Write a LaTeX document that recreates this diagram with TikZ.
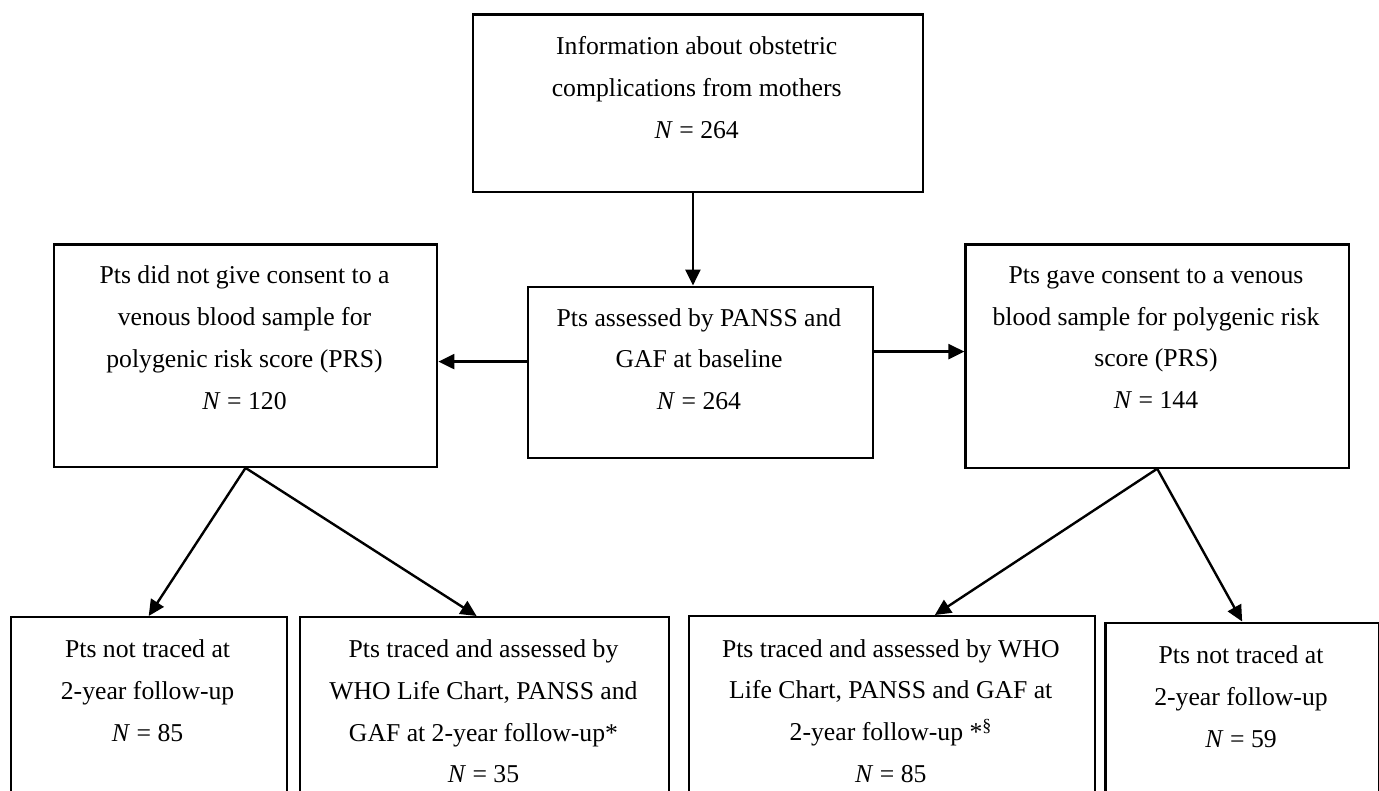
\documentclass[tikz,border=0pt]{standalone}
\usepackage{fontspec}
\setmainfont{Liberation Serif}
\usetikzlibrary{arrows.meta}
\begin{document}
\begin{tikzpicture}[x=1pt,y=-1pt,
  box/.style={draw, line width=2.2pt, inner sep=0pt, anchor=north west},
  txt/.style={align=center, font=\fontsize{25.7}{41.7}\selectfont, inner sep=0pt},
  arr/.style={line width=2.4pt, -{Triangle[length=16pt,width=15pt]}}]
\useasboundingbox (0,0) rectangle (1379,790);
\clip (0,0) rectangle (1379,790);
% boxes
\node[box, minimum width=450.3pt, minimum height=177.4pt] (top) at (471.7,13.3) {};
\node[box, minimum width=344.9pt, minimum height=171.5pt] (mid) at (526.8,285.5) {};
\node[box, minimum width=383.5pt, minimum height=222.4pt] (left) at (52.7,243.3) {};
\node[box, minimum width=383.4pt, minimum height=223.2pt] (right) at (964.4,243.3) {};
\node[box, minimum width=276.2pt, minimum height=200pt] (b1) at (9.5,616) {};
\node[box, minimum width=369pt, minimum height=200pt] (b2) at (299,616) {};
\node[box, minimum width=405.5pt, minimum height=200pt] (b3) at (688,615) {};
\node[box, minimum width=273.3pt, minimum height=200pt] (b4) at (1104.4,621.5) {};
% texts
\node[txt] (ttop) at (696.7,88.3) {\strut Information about obstetric\\complications from mothers\\\textit{N} = 264\strut};
\node[txt] (tmid) at (699,359.5) {\strut Pts assessed by PANSS and\\GAF at baseline\\\textit{N} = 264\strut};
\node[txt] (tleft) at (244.5,338.2) {\strut Pts did not give consent to a\\venous blood sample for\\polygenic risk score (PRS)\\\textit{N} = 120\strut};
\node[txt] (tright) at (1156,337.8) {\strut Pts gave consent to a venous\\blood sample for polygenic risk\\score (PRS)\\\textit{N} = 144\strut};
\node[txt] (tb1) at (147.6,691.3) {\strut Pts not traced at\\2-year follow-up\\\textit{N} = 85\strut};
\node[txt] (tb2) at (483.5,712) {\strut Pts traced and assessed by\\WHO Life Chart, PANSS and\\GAF at 2-year follow-up*\\\textit{N} = 35\strut};
\node[txt] (tb3) at (890.8,711.3) {\strut Pts traced and assessed by WHO\\Life Chart, PANSS and GAF at\\2-year follow-up *\textsuperscript{§}\\\textit{N} = 85\strut};
\node[txt] (tb4) at (1241,697.2) {\strut Pts not traced at\\2-year follow-up\\\textit{N} = 59\strut};
% connectors
\draw[arr] ([xshift=-5pt]top.south) -- ([xshift=-5pt]top.south |- mid.north);
\draw[arr] ([yshift=10.75pt]mid.west) -- ([yshift=10.75pt]mid.west -| left.east);
\draw[arr] ([yshift=20.75pt]mid.east) -- ([yshift=20.75pt]mid.east -| right.west);
\draw[arr] (left.south) -- (b1.north);
\draw[arr] (left.south) -- ([xshift=-8pt]b2.north);
\draw[arr] (right.south) -- ([xshift=43pt]b3.north);
\draw[arr] (right.south) -- (b4.north);
\end{tikzpicture}
\end{document}
